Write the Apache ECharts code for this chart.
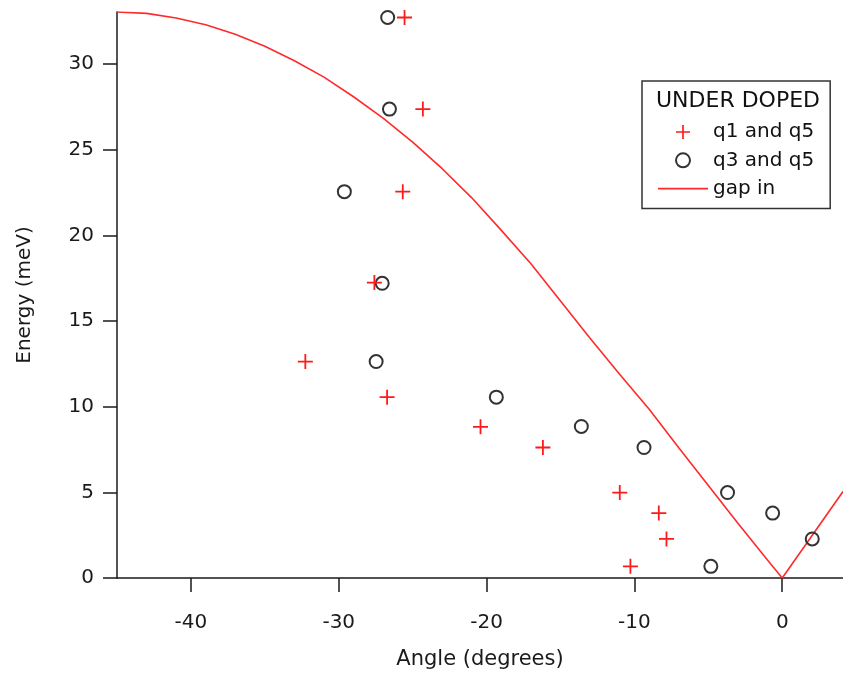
<!DOCTYPE html>
<html><head><meta charset="utf-8">
<script src="https://cdn.jsdelivr.net/npm/echarts@6/dist/echarts.min.js"></script>
<style>html,body{margin:0;padding:0;background:#fff}#c{width:843px;height:675px}</style>
</head><body><div id="c"></div>
<script>
// Tick labels
const xTicks = [-40, -30, -20, -10, 0];
const yTicks = [0, 5, 10, 15, 20, 25, 30];

// q1 and q5 (red crosses)
const q15Angle  = [-25.55, -24.31, -25.67, -27.59, -32.26, -26.73, -20.41, -16.19, -10.99, -8.35, -7.83, -10.27];
const q15Energy = [32.73, 27.38, 22.56, 17.25, 12.64, 10.56, 8.83, 7.62, 4.99, 3.79, 2.28, 0.68];

// q3 and q5 (open circles)
const q35Angle  = [-26.69, -26.57, -29.62, -27.06, -27.47, -19.34, -13.59, -9.35, -3.70, -0.65, 2.03, -4.83];
const q35Energy = [32.73, 27.38, 22.56, 17.21, 12.64, 10.56, 8.85, 7.62, 4.99, 3.79, 2.28, 0.68];

// gap in (red line)
const gapAngle  = [-45, -43, -41, -39, -37, -35, -33, -31, -29, -27, -25, -23, -21, -19, -17, -15, -13, -11, -9, -7, -5, -3, -1, 0, 4.11];
const gapEnergy = [33.05, 32.97, 32.7, 32.3, 31.75, 31.05, 30.2, 29.25, 28.1, 26.85, 25.45, 23.9, 22.2, 20.3, 18.35, 16.17, 14.0, 11.9, 9.85, 7.6, 5.4, 3.2, 1.05, 0, 5.05];

const FONT = 'DejaVu Sans';
const AX = '#1a1a1a';
const zip = (a, b) => a.map((v, i) => [v, b[i]]);
const crossPath = 'path://M4.4,0H5.6V4.4H10V5.6H5.6V10H4.4V5.6H0V4.4H4.4Z';

const chart = echarts.init(document.getElementById('c'), null, {renderer: 'canvas'});
chart.setOption({
  animation: false,
  backgroundColor: '#fff',
  grid: {left: 117, right: 0, top: 12, bottom: 97, containLabel: false},
  xAxis: {
    type: 'value', min: -45, max: 4.11,
    name: 'Angle (degrees)', nameLocation: 'middle', nameGap: 71,
    nameTextStyle: {fontFamily: FONT, fontSize: 21, color: AX},
    axisLine: {show: true, onZero: false, lineStyle: {color: AX, width: 1.5}},
    axisTick: {show: true, length: 14, inside: false, customValues: xTicks, lineStyle: {color: AX, width: 1.5}},
    axisLabel: {customValues: xTicks, margin: 35, fontFamily: FONT, fontSize: 20, color: AX},
    splitLine: {show: false}
  },
  yAxis: {
    type: 'value', min: 0, max: 33.05,
    name: 'Energy (meV)', nameLocation: 'middle', nameGap: 82, nameRotate: 90,
    nameTextStyle: {fontFamily: FONT, fontSize: 20, color: AX},
    axisLine: {show: true, onZero: false, lineStyle: {color: AX, width: 1.5}},
    axisTick: {show: true, length: 14, inside: false, customValues: yTicks, lineStyle: {color: AX, width: 1.5}},
    axisLabel: {customValues: yTicks, margin: 23, fontFamily: FONT, fontSize: 20, color: AX},
    splitLine: {show: false}
  },
  legend: {
    orient: 'vertical', left: 642, top: 81,
    padding: [41, 16, 10, 16],
    itemGap: 8.3, itemWidth: 50, itemHeight: 14,
    borderColor: '#333', borderWidth: 1.5, backgroundColor: '#fff',
    selectedMode: false,
    textStyle: {fontFamily: FONT, fontSize: 20, color: '#111'},
    data: [
      {name: 'q1 and q5'},
      {name: 'q3 and q5'},
      {name: 'gap in', icon: 'path://M0,0H46V1.6H0Z'}
    ]
  },
  graphic: [{
    type: 'text', left: 656, top: 90, z: 100,
    style: {text: 'UNDER DOPED', font: '22px "DejaVu Sans"', fill: '#111'}
  }],
  series: [
    {
      name: 'gap in', type: 'line', symbol: 'none', z: 1,
      lineStyle: {color: '#ff2a2a', width: 1.6},
      itemStyle: {color: '#ff2a2a'},
      data: zip(gapAngle, gapEnergy)
    },
    {
      name: 'q1 and q5', type: 'scatter', symbol: crossPath, symbolSize: 15, z: 3,
      itemStyle: {color: '#ff1a1a', opacity: 1},
      data: zip(q15Angle, q15Energy)
    },
    {
      name: 'q3 and q5', type: 'scatter', symbol: 'circle', symbolSize: 13, z: 2,
      itemStyle: {color: 'rgba(0,0,0,0)', borderColor: '#333', borderWidth: 2, opacity: 1},
      data: zip(q35Angle, q35Energy)
    }
  ]
});
</script>
</body></html>
